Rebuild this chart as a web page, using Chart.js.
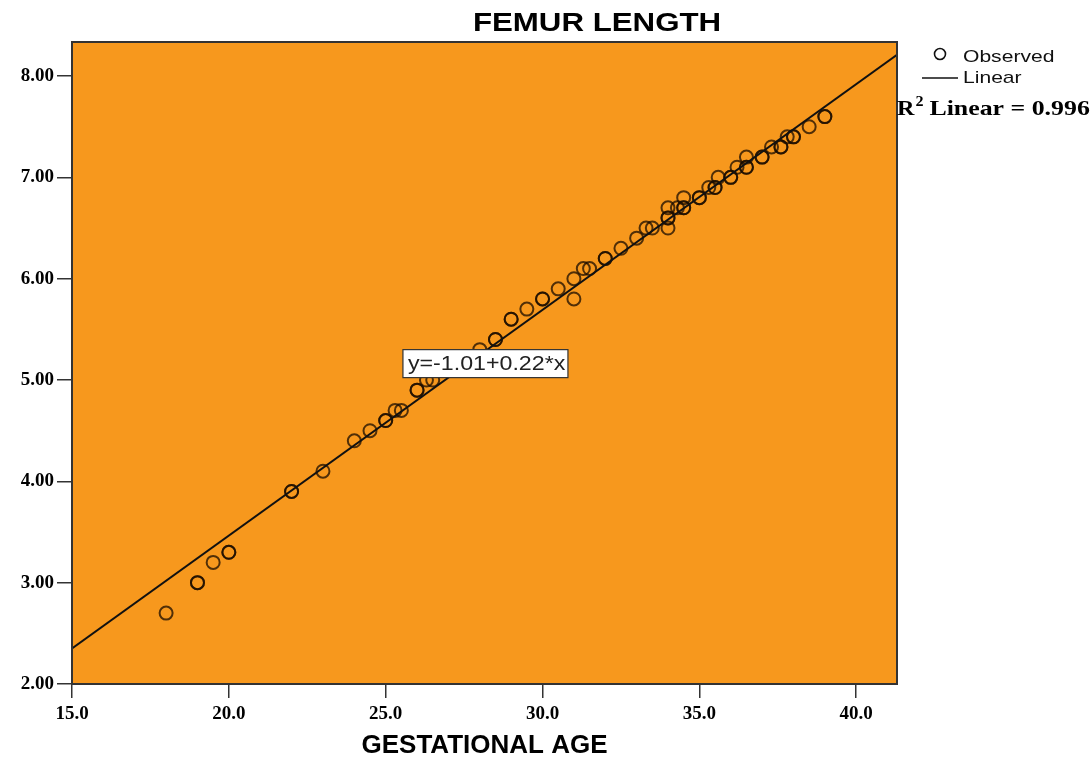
<!DOCTYPE html>
<html>
<head>
<meta charset="utf-8">
<title>Femur length</title>
<script src="https://cdn.jsdelivr.net/npm/chart.js@4/dist/chart.umd.min.js"></script>
<style>
  body { margin: 0; background: #fff; }
  canvas { display: block; }
</style>
</head>
<body>
<canvas id="femur" width="1092" height="758"></canvas>
<script>
{
    // observed points (repeated pairs = several cases on the same spot)
    const gestAge = [18, 19, 19, 19.5, 20, 20, 22, 22, 23, 24, 24.5, 25, 25, 25.3, 25.5,
        26, 26, 26.3, 26.5, 27, 28, 28.5, 28.5, 29, 29, 29.5, 30, 30, 30.5, 31, 31,
        31.3, 31.5, 32, 32, 32.5, 33, 33.3, 33.5, 34, 34, 34, 34, 34.3, 34.5, 34.5, 34.5,
        35, 35, 35.3, 35.5, 35.5, 35.6, 36, 36, 36.2, 36.5, 36.5, 36.5, 37, 37, 37.3,
        37.6, 37.6, 37.8, 38, 38, 38.5, 39, 39];
    const femurLen = [2.7, 3.0, 3.0, 3.2, 3.3, 3.3, 3.9, 3.9, 4.1, 4.4, 4.5, 4.6, 4.6, 4.7, 4.7,
        4.9, 4.9, 5.0, 5.0, 5.1, 5.3, 5.4, 5.4, 5.6, 5.6, 5.7, 5.8, 5.8, 5.9, 5.8, 6.0,
        6.1, 6.1, 6.2, 6.2, 6.3, 6.4, 6.5, 6.5, 6.5, 6.6, 6.6, 6.7, 6.7, 6.7, 6.7, 6.8,
        6.8, 6.8, 6.9, 6.9, 6.9, 7.0, 7.0, 7.0, 7.1, 7.1, 7.1, 7.2, 7.2, 7.2, 7.3,
        7.3, 7.3, 7.4, 7.4, 7.4, 7.5, 7.6, 7.6];

    // fitted line, ends
    const fitX = [15, 41.3];
    const fitY = [2.35, 8.21];

    const xTicks = [15, 20, 25, 30, 35, 40];
    const yTicks = [2, 3, 4, 5, 6, 7, 8];

    const ORANGE = '#F7981D';
    const INK = '#111';
    const SERIF = '"Liberation Serif", "Times New Roman", serif';
    const SANS = '"Liberation Sans", Arial, sans-serif';

    const stretchText = (ctx, text, x, y, font, sx, align) => {
        ctx.save();
        ctx.font = font;
        ctx.textBaseline = 'middle';
        ctx.textAlign = 'left';
        const w = ctx.measureText(text).width * sx;
        const left = align === 'center' ? x - w / 2 : x;
        ctx.translate(left, y);
        ctx.scale(sx, 1);
        ctx.fillText(text, 0, 0);
        ctx.restore();
        return w;
    };

    const spssFrame = {
        id: 'spssFrame',
        beforeDraw(chart) {
            const { ctx, chartArea: a } = chart;
            ctx.save();
            ctx.fillStyle = ORANGE;
            ctx.fillRect(a.left, a.top, a.right - a.left, a.bottom - a.top);
            ctx.restore();
        },
        afterDraw(chart) {
            const { ctx, chartArea: a, scales } = chart;
            ctx.save();
            // frame
            ctx.strokeStyle = '#333';
            ctx.lineWidth = 2;
            ctx.strokeRect(a.left, a.top, a.right - a.left, a.bottom - a.top);

            // title
            ctx.fillStyle = '#000';
            stretchText(ctx, 'FEMUR LENGTH', 597, 24, 'bold 25px ' + SANS, 1.25, 'center');

            // legend
            ctx.strokeStyle = '#111';
            ctx.lineWidth = 1.6;
            ctx.beginPath();
            ctx.arc(940, 54, 5.5, 0, Math.PI * 2);
            ctx.stroke();
            ctx.beginPath();
            ctx.moveTo(922, 78);
            ctx.lineTo(958, 78);
            ctx.stroke();
            ctx.fillStyle = '#111';
            stretchText(ctx, 'Observed', 963, 57, '17px ' + SANS, 1.24);
            stretchText(ctx, 'Linear', 963, 78, '17px ' + SANS, 1.24);

            // R squared
            ctx.fillStyle = '#000';
            let x = 897;
            x += stretchText(ctx, 'R', x, 110, 'bold 21px ' + SERIF, 1.15);
            stretchText(ctx, '2', x + 1, 102, 'bold 14px ' + SERIF, 1.15);
            stretchText(ctx, 'Linear = 0.996', x + 15, 110, 'bold 21px ' + SERIF, 1.23);

            // equation label on the fit line
            const bx = scales.x.getPixelForValue(25.55);
            const by = scales.y.getPixelForValue(5.30);
            ctx.fillStyle = '#fff';
            ctx.fillRect(bx, by, 165, 28);
            ctx.strokeStyle = '#333';
            ctx.lineWidth = 1.2;
            ctx.strokeRect(bx, by, 165, 28);
            ctx.fillStyle = '#222';
            stretchText(ctx, 'y=-1.01+0.22*x', bx + 5, by + 15, '20px ' + SANS, 1.16);
            ctx.restore();
        }
    };

    document.addEventListener('DOMContentLoaded', () => {
        const points = gestAge.map((g, i) => ({ x: g, y: femurLen[i] }));
        const fit = fitX.map((g, i) => ({ x: g, y: fitY[i] }));

        new Chart(document.getElementById('femur'), {
            type: 'scatter',
            data: {
                datasets: [
                    {
                        label: 'Linear',
                        type: 'line',
                        data: fit,
                        borderColor: INK,
                        borderWidth: 2,
                        pointRadius: 0,
                        fill: false,
                        order: 1
                    },
                    {
                        label: 'Observed',
                        data: points,
                        pointStyle: 'circle',
                        pointRadius: 6.5,
                        pointBorderWidth: 2,
                        pointBackgroundColor: 'rgba(0,0,0,0)',
                        pointBorderColor: 'rgba(25,12,0,0.75)',
                        order: 2
                    }
                ]
            },
            options: {
                responsive: false,
                animation: false,
                layout: { padding: { top: 42, right: 195, left: 0, bottom: 0 } },
                plugins: {
                    legend: { display: false },
                    title: { display: false },
                    tooltip: { enabled: false }
                },
                scales: {
                    x: {
                        type: 'linear',
                        min: 15,
                        max: 41.3,
                        afterBuildTicks: s => { s.ticks = xTicks.map(v => ({ value: v })); },
                        afterFit: s => { s.height = 74; },
                        grid: { display: true, drawOnChartArea: false, drawTicks: true, tickLength: 14, color: '#333', lineWidth: 1.5 },
                        border: { display: true, color: '#333', width: 2 },
                        ticks: {
                            color: '#000',
                            padding: 5,
                            maxRotation: 0,
                            font: { family: SERIF, weight: 'bold', size: 19 },
                            callback: v => v.toFixed(1)
                        },
                        title: {
                            display: true,
                            text: 'GESTATIONAL AGE',
                            color: '#000',
                            padding: { top: 0, bottom: 0 },
                            font: { family: SANS, weight: 'bold', size: 26, lineHeight: 0.9 }
                        }
                    },
                    y: {
                        type: 'linear',
                        min: 2,
                        max: 8.336,
                        afterBuildTicks: s => { s.ticks = yTicks.map(v => ({ value: v })); },
                        afterFit: s => { s.width = 72; },
                        grid: { display: true, drawOnChartArea: false, drawTicks: true, tickLength: 15, color: '#333', lineWidth: 1.5 },
                        border: { display: true, color: '#333', width: 2 },
                        ticks: {
                            color: '#000',
                            padding: 3,
                            font: { family: SERIF, weight: 'bold', size: 19 },
                            callback: v => v.toFixed(2)
                        }
                    }
                }
            },
            plugins: [spssFrame]
        });
    });
}
</script>
</body>
</html>
